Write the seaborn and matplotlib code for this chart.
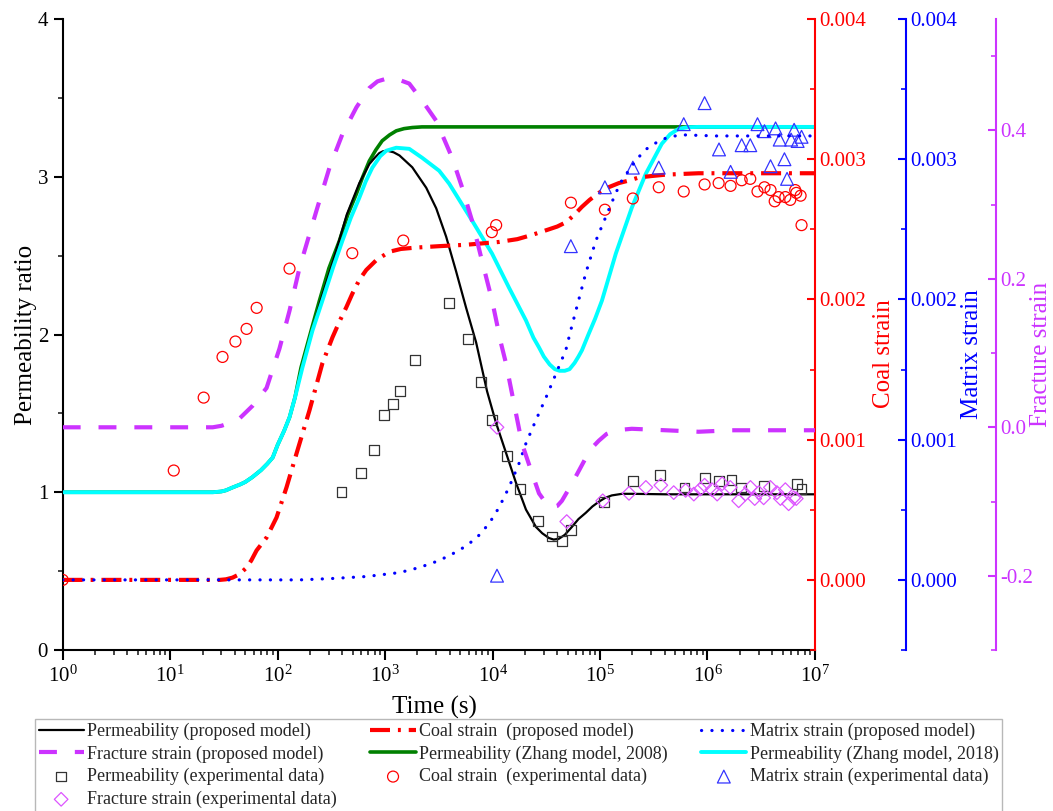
import matplotlib
matplotlib.use("Agg")
import numpy as np
import matplotlib.pyplot as plt
from matplotlib.ticker import (MultipleLocator, LogLocator, LogFormatterMathtext,
                               FormatStrFormatter, NullFormatter, FixedLocator)
import seaborn as sns

# ---------------- model curves ----------------
# Permeability ratio, proposed model
t_perm_model = [1, 10, 25, 30, 33, 38, 45, 50, 58, 70, 80, 90, 100, 115, 129, 145, 170,
                211, 250, 330, 440, 576, 713, 800, 883, 960, 1048, 1200, 1361, 1790,
                2415, 2990, 3700, 4580, 5670, 7030, 8890, 10770, 13340, 16520, 20460,
                25340, 29000, 33430, 37000, 41400, 47000, 54700, 63000, 73800, 85000,
                97500, 112000, 128800, 160000, 197600, 408000, 1.67e6, 1e7]
perm_model = [1.0, 1.0, 1.0, 1.005, 1.012, 1.03, 1.05, 1.065, 1.095, 1.14, 1.18, 1.22,
              1.30, 1.39, 1.475, 1.60, 1.79, 2.025, 2.21, 2.47, 2.76, 2.96, 3.08, 3.12,
              3.15, 3.162, 3.165, 3.155, 3.135, 3.06, 2.93, 2.80, 2.62, 2.40, 2.17,
              1.95, 1.64, 1.44, 1.25, 1.06, 0.89, 0.78, 0.74, 0.71, 0.70, 0.705, 0.73,
              0.78, 0.83, 0.87, 0.91, 0.94, 0.965, 0.98, 0.99, 0.99, 0.987, 0.987, 0.987]

# Permeability ratio, Zhang model 2008
t_perm_z08 = [1, 10, 25, 30, 33, 38, 45, 50, 58, 70, 80, 90, 100, 115, 129, 145, 165,
              205, 245, 300, 376, 450, 541, 620, 713, 820, 940, 1100, 1270, 1500, 1790,
              2200, 1e4, 1e5, 1e6, 1e7]
perm_z08 = [1.0, 1.0, 1.0, 1.005, 1.012, 1.03, 1.05, 1.065, 1.095, 1.14, 1.18, 1.22,
            1.30, 1.39, 1.475, 1.60, 1.79, 2.025, 2.215, 2.42, 2.595, 2.76, 2.892, 3.00,
            3.10, 3.17, 3.228, 3.265, 3.291, 3.305, 3.312, 3.316, 3.316, 3.316, 3.316,
            3.316]

# Permeability ratio, Zhang model 2018
t_perm_z18 = [1, 10, 25, 30, 33, 38, 45, 50, 58, 70, 80, 90, 100, 115, 129, 145, 170,
              211, 261, 330, 401, 480, 576, 660, 760, 900, 1026, 1270, 1678, 2215, 3186,
              3950, 6450, 9890, 14220, 20460, 24000, 27050, 30000, 34000, 38000, 42000,
              47000, 52000, 58000, 63000, 67900, 78000, 90000, 104200, 140300, 197600,
              266700, 375600, 450000, 540000, 650000, 827000, 1e7]
perm_z18 = [1.0, 1.0, 1.0, 1.005, 1.012, 1.03, 1.05, 1.065, 1.095, 1.14, 1.18, 1.22,
            1.30, 1.39, 1.475, 1.60, 1.79, 2.025, 2.215, 2.43, 2.595, 2.74, 2.867, 2.97,
            3.057, 3.13, 3.165, 3.184, 3.177, 3.12, 3.038, 2.956, 2.722, 2.513, 2.297,
            2.089, 1.98, 1.918, 1.86, 1.81, 1.78, 1.77, 1.77, 1.78, 1.82, 1.86, 1.90,
            2.0, 2.10, 2.215, 2.513, 2.804, 3.019, 3.209, 3.27, 3.304, 3.314, 3.316,
            3.316]

# Coal strain, proposed model
t_coal_model = [1, 29, 33, 38, 44, 51.5, 57, 63.7, 78.9, 97.7, 121, 150, 198, 261, 324,
                380, 436, 495, 576, 668, 828, 1094, 1400, 1950, 3186, 5670, 11480,
                17000, 23280, 33430, 40000, 48100, 57000, 67800, 80000, 97530, 120000,
                150000, 190000, 230000, 300000, 408000, 827000, 1e7]
coal_model = [0.0, 0.0, 0.000004, 0.000016, 0.00004, 0.000088, 0.00014, 0.00021,
              0.000302, 0.000445, 0.00066, 0.000902, 0.00121, 0.001545, 0.00173,
              0.00185, 0.001945, 0.00204, 0.00214, 0.00221, 0.00228, 0.00234, 0.00236,
              0.00237, 0.00238, 0.00239, 0.00241, 0.00243, 0.00246, 0.0025, 0.00252,
              0.00255, 0.0026, 0.00266, 0.00271, 0.00276, 0.0028, 0.00283, 0.00285,
              0.00287, 0.00288, 0.00289, 0.0029, 0.0029]

# Matrix strain, proposed model
t_matrix_model = [1, 160, 324, 668, 1361, 2080, 3186, 4890, 7030, 9290, 11480, 14220,
                  17620, 20460, 25340, 31400, 38900, 48100, 53000, 59600, 73840, 91600,
                  113300, 140300, 160000, 185300, 220000, 266700, 320000, 375600,
                  450000, 575000, 1.19e6, 1e7]
matrix_model = [0.0, 0.0, 0.00001, 0.000024, 0.000052, 0.000088, 0.000138, 0.00021,
                0.000295, 0.000402, 0.000516, 0.00066, 0.00083, 0.000974, 0.00114,
                0.0013, 0.00147, 0.00164, 0.00177, 0.00192, 0.00219, 0.00242, 0.00259,
                0.00276, 0.00285, 0.00292, 0.003, 0.00307, 0.00311, 0.00314, 0.00316,
                0.003174, 0.003166, 0.003166]

# Fracture strain, proposed model
t_frac_model = [1, 24.9, 30, 36, 44.3, 58.5, 78.9, 104, 129, 160, 230, 304, 401, 541,
                713, 850, 1048, 1300, 1678, 2215, 2987, 4207, 5210, 6450, 7984, 9890,
                11990, 13340, 15830, 18790, 22790, 27050, 31000, 35720, 40000, 44200,
                54730, 73840, 85000, 97530, 115000, 140300, 197600, 408600, 826600,
                1674000, 1e7]
frac_model = [0.0, 0.0, 0.002, 0.006, 0.012, 0.029, 0.053, 0.106, 0.157, 0.215, 0.292,
              0.350, 0.395, 0.431, 0.457, 0.466, 0.470, 0.469, 0.463, 0.440, 0.413,
              0.363, 0.323, 0.278, 0.224, 0.171, 0.113, 0.086, 0.032, -0.022, -0.058,
              -0.089, -0.101, -0.108, -0.106, -0.099, -0.076, -0.041, -0.027, -0.018,
              -0.009, -0.004, -0.002, -0.004, -0.006, -0.004, -0.004]

# ---------------- experimental data ----------------
t_perm_exp = [393, 600, 793, 982, 1190, 1384, 1909, 3960, 5940, 7830, 9860, 13600,
              18000, 26500, 35700, 44400, 53500, 108700, 202000, 359000, 612000,
              940000, 1.27e6, 1.67e6, 2.04e6, 3.33e6, 6.76e6, 7.5e6]
perm_exp = [1.0, 1.12, 1.27, 1.49, 1.56, 1.64, 1.84, 2.20, 1.97, 1.70, 1.46, 1.23,
            1.02, 0.82, 0.72, 0.69, 0.76, 0.94, 1.07, 1.11, 1.03, 1.09, 1.07, 1.08,
            1.03, 1.04, 1.05, 1.02]

t_coal_exp = [1, 10.8, 20.5, 30.7, 40.5, 51.4, 63.8, 129, 495, 1476, 9840, 10800, 53600,
              111000, 202000, 352000, 601000, 940000, 1.27e6, 1.64e6, 2.08e6, 2.5e6,
              2.92e6, 3.39e6, 3.86e6, 4.22e6, 4.59e6, 5.3e6, 5.89e6, 6.55e6, 6.7e6,
              7.35e6, 7.5e6]
coal_exp = [0.0, 0.00078, 0.0013, 0.00159, 0.0017, 0.00179, 0.00194, 0.00222, 0.00233,
            0.00242, 0.00248, 0.00253, 0.00269, 0.00264, 0.00272, 0.0028, 0.00277,
            0.00282, 0.00283, 0.00281, 0.00285, 0.00286, 0.00277, 0.0028, 0.00278,
            0.0027, 0.00273, 0.00273, 0.00271, 0.00278, 0.00276, 0.00274, 0.00253]

t_matrix_exp = [11000, 53500, 111000, 202000, 352000, 601000, 940000, 1.28e6, 1.64e6,
                2.08e6, 2.5e6, 2.92e6, 3.39e6, 3.86e6, 4.3e6, 4.7e6, 5.2e6, 5.5e6,
                6.0e6, 6.4e6, 6.9e6, 7.5e6]
matrix_exp = [0.00003, 0.00238, 0.0028, 0.00294, 0.00294, 0.00325, 0.0034, 0.00307,
              0.00291, 0.0031, 0.0031, 0.00325, 0.0032, 0.00295, 0.00322, 0.00314,
              0.003, 0.00286, 0.00314, 0.00321, 0.00313, 0.00316]

t_frac_exp = [11000, 49000, 106000, 186000, 267000, 368000, 485000, 626000, 746000,
              861000, 940000, 1.1e6, 1.23e6, 1.37e6, 1.63e6, 1.95e6, 2.25e6, 2.51e6,
              2.75e6, 3.0e6, 3.33e6, 3.85e6, 4.43e6, 4.77e6, 5.3e6, 5.69e6, 6.34e6,
              6.7e6]
frac_exp = [0.0, -0.127, -0.099, -0.089, -0.081, -0.078, -0.088, -0.085, -0.090,
            -0.083, -0.078, -0.084, -0.090, -0.076, -0.081, -0.099, -0.090, -0.081,
            -0.096, -0.088, -0.095, -0.081, -0.088, -0.096, -0.084, -0.103, -0.095,
            -0.096]

# Decades labelled on the time axis
time_ticks = [1e0, 1e1, 1e2, 1e3, 1e4, 1e5, 1e6, 1e7]

# ---------------- style ----------------
sns.set_theme(style="ticks")
plt.rcParams["font.family"] = ["Liberation Serif", "DejaVu Serif"]
plt.rcParams["mathtext.fontset"] = "custom"
plt.rcParams["mathtext.rm"] = "Liberation Serif"
plt.rcParams["mathtext.it"] = "Liberation Serif:italic"
plt.rcParams["mathtext.bf"] = "Liberation Serif:bold"
plt.rcParams["axes.unicode_minus"] = True

RED = "#ff0000"
BLUE = "#0000ff"
MAGENTA = "#cc33ff"
GREEN = "#008000"
CYAN = "#00ffff"

fig = plt.figure(figsize=(10.53, 8.11), dpi=100)
fig.patch.set_facecolor("white")
ax = fig.add_axes([0.05954, 0.19852, 0.7144, 0.77805])
ax_coal = ax.twinx()
ax_mat = ax.twinx()
ax_frac = ax.twinx()
ax.set_xscale("log")


def line(axis, t, v, label, **kw):
    sns.lineplot(x=t, y=v, ax=axis, estimator=None, errorbar=None, sort=True,
                 legend=False, **kw)
    ln = axis.get_lines()[-1]
    ln.set_label(label)
    return ln


def points(axis, t, v, label, **kw):
    sns.scatterplot(x=t, y=v, ax=axis, legend=False, **kw)
    pc = axis.collections[-1]
    pc.set_label(label)
    return pc


h_perm = line(ax, t_perm_model, perm_model, "Permeability (proposed model)",
              color="black", lw=1.6, zorder=3)
h_z08 = line(ax, t_perm_z08, perm_z08, "Permeability (Zhang model, 2008)",
             color=GREEN, lw=2.6, zorder=2)
h_z18 = line(ax, t_perm_z18, perm_z18, "Permeability (Zhang model, 2018)",
             color=CYAN, lw=2.8, zorder=4)
h_perm_exp = points(ax, t_perm_exp, perm_exp, "Permeability (experimental data)",
                    marker="s", s=50, facecolors="none", edgecolor="#333333",
                    linewidth=0.9, zorder=5)

h_coal = line(ax_coal, t_coal_model, coal_model, "Coal strain  (proposed model)",
              color=RED, lw=3.0, linestyle=(0, (4.8, 1.9, 0.7, 1.9)))
h_coal_exp = points(ax_coal, t_coal_exp, coal_exp, "Coal strain  (experimental data)",
                    marker="o", s=62, facecolors="none", edgecolor=RED, linewidth=0.9)

h_mat = line(ax_mat, t_matrix_model, matrix_model, "Matrix strain (proposed model)",
             color=BLUE, lw=2.3, linestyle=(0, (0.05, 3.2)), dash_capstyle="round")
h_mat_exp = points(ax_mat, t_matrix_exp, matrix_exp, "Matrix strain (experimental data)",
                   marker="^", s=85, facecolors="none", edgecolor="#3333ff", linewidth=0.9)

h_frac = line(ax_frac, t_frac_model, frac_model, "Fracture strain (proposed model)",
              color=MAGENTA, lw=3.0, linestyle=(0, (4.3, 4.3)))
h_frac_exp = points(ax_frac, t_frac_exp, frac_exp, "Fracture strain (experimental data)",
                    marker="D", s=48, facecolors="none", edgecolor="#dd55ff", linewidth=0.9)

# ---------------- axes ----------------
ax.set_xlim(1, 1e7)
ax.set_ylim(0, 4)
ax.xaxis.set_major_locator(FixedLocator(time_ticks))
ax.xaxis.set_minor_locator(LogLocator(base=10, subs=np.arange(2, 10), numticks=12))
ax.xaxis.set_major_formatter(LogFormatterMathtext())
ax.xaxis.set_minor_formatter(NullFormatter())
ax.yaxis.set_major_locator(MultipleLocator(1))
ax.yaxis.set_minor_locator(MultipleLocator(0.5))
ax.tick_params(axis="both", which="major", direction="out", length=6.5, width=1.5,
               labelsize=15, colors="black", pad=4)
ax.tick_params(axis="both", which="minor", direction="out", length=3.5, width=1.2)
ax.tick_params(axis="x", which="major", length=7)
for side in ("top", "right"):
    ax.spines[side].set_visible(False)
for side in ("left", "bottom"):
    ax.spines[side].set_color("black")
    ax.spines[side].set_linewidth(1.5)

ax.set_xlabel("Time (s)", fontsize=18, color="black")
ax.xaxis.set_label_coords(0.4936, -0.072)
ax.set_ylabel("Permeability ratio", fontsize=18, color="black")
ax.yaxis.set_label_coords(-0.034, 0.5)

right_axes = [
    (ax_coal, RED, 1.0, (-0.0005, 0.004), 0.001, 0.0005, "%.3f", "Coal strain", 1.077),
    (ax_mat, BLUE, 1.121, (-0.0005, 0.004), 0.001, 0.0005, "%.3f", "Matrix strain", 1.1935),
    (ax_frac, MAGENTA, 1.2406, (-0.3, 0.55), 0.2, 0.1, "%.1f", "Fracture strain", 1.2865),
]
for axis, col, pos, lim, major, minor, fmt, label, lx in right_axes:
    axis.set_ylim(*lim)
    axis.spines["right"].set_position(("axes", pos))
    for side in ("top", "left", "bottom"):
        axis.spines[side].set_visible(False)
    axis.spines["right"].set_color(col)
    axis.spines["right"].set_linewidth(1.5)
    axis.yaxis.set_major_locator(MultipleLocator(major))
    axis.yaxis.set_minor_locator(MultipleLocator(minor))
    axis.yaxis.set_major_formatter(FormatStrFormatter(fmt))
    axis.tick_params(axis="y", which="major", direction="in", length=6, width=1.5,
                     colors=col, labelsize=15, pad=3)
    axis.tick_params(axis="y", which="minor", direction="in", length=3.5, width=1.2,
                     colors=col)
    axis.set_ylabel(label, fontsize=18, color=col)
    axis.yaxis.set_label_coords(lx, 0.469)

# ---------------- legend ----------------
handles = [h_perm, h_frac, h_perm_exp, h_frac_exp,
           h_coal, h_z08, h_coal_exp,
           h_mat, h_z18, h_mat_exp]
fig.legend(handles=handles, labels=[h.get_label() for h in handles], ncol=3,
           loc="upper left", bbox_to_anchor=(0.0332, 1 - 719 / 811),
           frameon=True, fancybox=False, edgecolor="#b8b8b8", framealpha=1,
           fontsize=13, handlelength=2.5, handletextpad=0.2, columnspacing=1.85,
           labelspacing=0.3, borderpad=0.2, borderaxespad=0)

fig.savefig("out.png", dpi=100)
